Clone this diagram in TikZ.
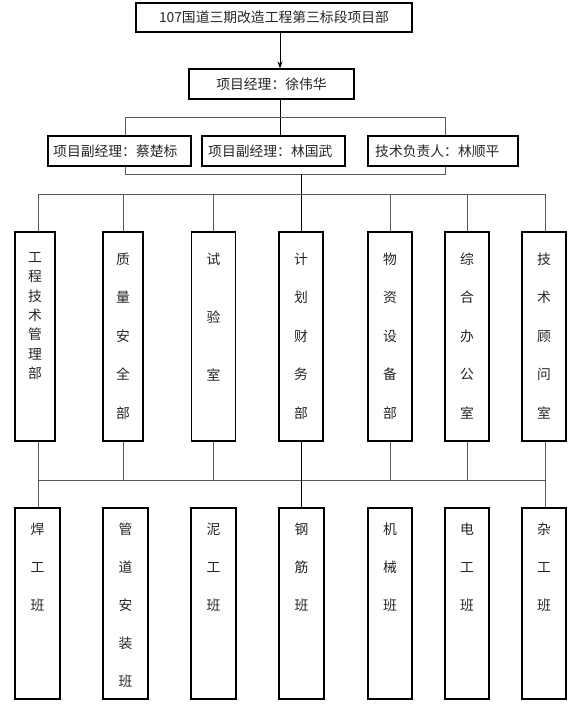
\documentclass[tikz,border=0pt]{standalone}
\usepackage{fontspec}
\setmainfont{Noto Sans CJK SC}
\usetikzlibrary{arrows.meta}
\begin{document}
\begin{tikzpicture}[x=1pt,y=-1pt,
  box/.style={draw=black, line width=1.1pt, inner sep=0pt, fill=white},
  mbox/.style={box, minimum width=44pt, minimum height=209pt},
  bbox/.style={box, minimum width=45pt, minimum height=191pt},
  conn/.style={draw=black!65, line width=0.8pt},
  spine/.style={draw=black, line width=0.9pt},
  txt/.style={font=\fontsize{13.8}{16}\selectfont, text=black!85},
  vtxt/.style={text=black!85, align=center, anchor=north, inner sep=0pt}]
\useasboundingbox[fill=white] (0,0) rectangle (586,708);
% top levels
\node[box, minimum width=276pt, minimum height=29pt, txt] (top) at (274,17.5) {107国道三期改造工程第三标段项目部};
\node[box, minimum width=165pt, minimum height=30pt, txt] (pm) at (271.5,84) {项目经理：徐伟华};
\node[box, minimum width=143pt, minimum height=30pt] (dA) at (119.5,151) {};
\node[box, minimum width=143pt, minimum height=30pt] (dB) at (273.5,151) {};
\node[box, minimum width=150pt, minimum height=30pt] (dC) at (443,151) {};
\node[txt, anchor=west, inner sep=0pt] (tA) at (53,151) {项目副经理：蔡楚标};
\node[txt, anchor=west, inner sep=0pt] (tB) at (208,151) {项目副经理：林国武};
\node[txt, anchor=west, inner sep=0pt] (tC) at (375,151) {技术负责人：林顺平};
% middle row
\node[mbox, minimum width=40pt] (m1) at (35,336.5) {};
\node[mbox, minimum width=40pt] (m2) at (123,336.5) {};
\node[mbox] (m3) at (213.5,336.5) {};
\node[mbox] (m4) at (301,336.5) {};
\node[mbox] (m5) at (390,336.5) {};
\node[mbox] (m6) at (467,336.5) {};
\node[mbox] (m7) at (544,336.5) {};
\node[vtxt, font=\fontsize{13.8}{19.3}\selectfont] (t1) at ([yshift=-21pt]m1.north) {工\\程\\技\\术\\管\\理\\部};
\node[vtxt, font=\fontsize{13.8}{38.5}\selectfont] (t2) at ([yshift=-21pt]m2.north) {质\\量\\安\\全\\部};
\node[vtxt, font=\fontsize{13.8}{58}\selectfont] (t3) at ([yshift=-21pt]m3.north) {试\\验\\室};
\node[vtxt, font=\fontsize{13.8}{38.5}\selectfont] (t4) at ([yshift=-21pt]m4.north) {计\\划\\财\\务\\部};
\node[vtxt, font=\fontsize{13.8}{38.5}\selectfont] (t5) at ([yshift=-21pt]m5.north) {物\\资\\设\\备\\部};
\node[vtxt, font=\fontsize{13.8}{38.5}\selectfont] (t6) at ([yshift=-21pt]m6.north) {综\\合\\办\\公\\室};
\node[vtxt, font=\fontsize{13.8}{38.5}\selectfont] (t7) at ([yshift=-21pt]m7.north) {技\\术\\顾\\问\\室};
% bottom row
\node[bbox] (b1) at (37.5,603.5) {};
\node[bbox] (b2) at (125.5,603.5) {};
\node[bbox] (b3) at (213.5,603.5) {};
\node[bbox] (b4) at (301.5,603.5) {};
\node[bbox, minimum width=44pt] (b5) at (390,603.5) {};
\node[bbox, minimum width=44pt] (b6) at (467,603.5) {};
\node[bbox, minimum width=44pt] (b7) at (544,603.5) {};
\node[vtxt, font=\fontsize{13.8}{38}\selectfont] (u1) at ([yshift=-15pt]b1.north) {焊\\工\\班};
\node[vtxt, font=\fontsize{13.8}{38}\selectfont] (u2) at ([yshift=-15pt]b2.north) {管\\道\\安\\装\\班};
\node[vtxt, font=\fontsize{13.8}{38}\selectfont] (u3) at ([yshift=-15pt]b3.north) {泥\\工\\班};
\node[vtxt, font=\fontsize{13.8}{38}\selectfont] (u4) at ([yshift=-15pt]b4.north) {钢\\筋\\班};
\node[vtxt, font=\fontsize{13.8}{38}\selectfont] (u5) at ([yshift=-15pt]b5.north) {机\\械\\班};
\node[vtxt, font=\fontsize{13.8}{38}\selectfont] (u6) at ([yshift=-15pt]b6.north) {电\\工\\班};
\node[vtxt, font=\fontsize{13.8}{38}\selectfont] (u7) at ([yshift=-15pt]b7.north) {杂\\工\\班};
% helper coordinates
\coordinate (sx) at (280,0);
\coordinate (xa) at (125,0);
\coordinate (xc) at (445,0);
\coordinate (xm) at (301,0);
\coordinate (k1) at (38,0);
\coordinate (k7) at (545,0);
\coordinate (r1) at (0,117);
\coordinate (r2) at (0,174);
\coordinate (r3) at (0,194);
\coordinate (r4) at (0,480);
% connectors
\draw[spine, -{Stealth[length=7pt,width=5pt]}] (top.south -| sx) -- (pm.north -| sx);
\draw[spine] (pm.south -| sx) -- (dB.north -| sx);
\draw[conn] (dA.north -| xa) -- (r1 -| xa) -- (r1 -| xc) -- (dC.north -| xc);
\draw[conn] (dA.south -| xa) -- (r2 -| xa) -- (r2 -| xc) -- (dC.south -| xc);
\draw[spine] (r2 -| xm) -- (m4.north);
\draw[conn] (r3 -| k1) -- (r3 -| k7);
\draw[conn] (r3 -| k1) -- (m1.north -| k1);
\draw[conn] (r3 -| m2.north) -- (m2.north);
\draw[conn] (r3 -| m3.north) -- (m3.north);
\draw[conn] (r3 -| m5.north) -- (m5.north);
\draw[conn] (r3 -| m6.north) -- (m6.north);
\draw[conn] (r3 -| k7) -- (m7.north -| k7);
\draw[conn] (r4 -| k1) -- (r4 -| k7);
\draw[conn] (m1.south -| k1) -- (b1.north -| k1);
\draw[conn] (m2.south) -- (r4 -| m2.south);
\draw[conn] (m3.south) -- (r4 -| m3.south);
\draw[spine] (m4.south) -- (b4.north -| m4.south);
\draw[conn] (m5.south) -- (r4 -| m5.south);
\draw[conn] (m6.south) -- (r4 -| m6.south);
\draw[conn] (m7.south -| k7) -- (b7.north -| k7);
\end{tikzpicture}
\end{document}
